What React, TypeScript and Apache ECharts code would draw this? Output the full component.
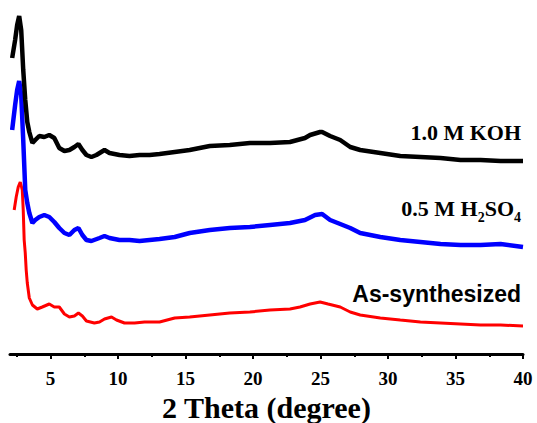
import React, { useEffect, useRef } from "react";
import * as echarts from "echarts";

// 2 Theta (degree) and intensity (a.u.)
const kohTheta = [2.16, 2.38, 2.53, 2.68, 2.83, 2.98, 3.13, 3.28, 3.43, 3.66, 3.87, 4.17, 4.54, 4.91, 5.28, 5.65, 6.03, 6.4, 6.77, 7.07, 7.36, 7.66, 8.03, 8.4, 9.0, 9.37, 10.11, 10.85, 11.6, 12.34, 13.08, 14.2, 15.31, 16.8, 18.28, 19.77, 21.26, 22.74, 23.85, 24.23, 24.97, 25.12, 25.71, 26.46, 27.2, 27.94, 29.43, 30.91, 32.4, 33.89, 35.37, 36.86, 38.34, 40];
const kohIntensity = [296, 314, 329, 338, 324, 284, 254, 232, 222, 211, 214, 218, 217, 219, 216, 206, 203, 204, 207, 210, 204, 199, 197, 199, 204, 201, 199, 198, 199, 199, 200, 202, 204, 208, 209, 211, 211, 212, 216, 219, 222, 222, 218, 214, 207, 204, 201, 198, 197, 196, 194, 194, 193, 193];

const h2so4Theta = [2.16, 2.38, 2.53, 2.68, 2.83, 2.98, 3.13, 3.28, 3.43, 3.66, 3.87, 4.17, 4.54, 4.91, 5.28, 5.65, 6.03, 6.4, 6.77, 7.07, 7.36, 7.66, 8.03, 8.63, 9.0, 9.37, 10.11, 10.85, 11.6, 12.34, 13.08, 14.2, 15.31, 16.8, 18.28, 19.77, 21.26, 22.74, 23.85, 24.6, 25.12, 25.71, 26.46, 27.2, 27.94, 29.43, 30.91, 32.4, 33.89, 35.37, 36.86, 38.34, 40];
const h2so4Intensity = [224, 249, 264, 273, 259, 214, 164, 151, 141, 131, 134, 137, 139, 137, 132, 126, 121, 119, 124, 126, 119, 114, 113, 116, 118, 116, 114, 114, 113, 114, 115, 117, 121, 124, 126, 127, 129, 131, 134, 139, 140, 134, 130, 126, 121, 117, 114, 112, 110, 109, 109, 110, 107];

const asTheta = [2.31, 2.46, 2.61, 2.76, 2.91, 2.98, 3.05, 3.13, 3.2, 3.28, 3.43, 3.66, 4.02, 4.39, 4.91, 5.28, 5.65, 6.03, 6.4, 6.77, 7.07, 7.36, 7.66, 8.25, 8.63, 9.0, 9.52, 9.89, 10.48, 11.23, 11.97, 13.08, 14.2, 15.31, 16.8, 18.28, 19.77, 21.26, 22.74, 23.48, 24.23, 24.97, 25.56, 26.46, 27.2, 27.94, 29.43, 30.91, 32.4, 33.89, 35.37, 36.86, 38.34, 40];
const asIntensity = [144, 157, 167, 172, 164, 144, 114, 101, 84, 71, 56, 49, 45, 47, 50, 47, 47, 40, 37, 38, 41, 38, 33, 31, 32, 35, 37, 34, 31, 31, 32, 32, 36, 37, 39, 41, 42, 44, 45, 47, 50, 52, 50, 47, 42, 39, 36, 34, 32, 31, 30, 29, 29, 28];

const majorTicks = [5, 10, 15, 20, 25, 30, 35, 40];
const minorTicks = [2.5, 7.5, 12.5, 17.5, 22.5, 27.5, 32.5, 37.5];

const pairs = (xs: number[], ys: number[]) => xs.map((x, i) => [x, ys[i]]);

const SERIF = "'Liberation Serif', 'Times New Roman', serif";
const SANS = "'Liberation Sans', Arial, sans-serif";

export default function App() {
  const ref = useRef<HTMLDivElement>(null);
  useEffect(() => {
    if (!ref.current) return;
    const chart = echarts.init(ref.current, undefined, { renderer: "svg" });
    chart.setOption({
      animation: false,
      backgroundColor: "#ffffff",
      grid: { left: 10, right: 14, top: 0, bottom: 69, outerBoundsMode: "none", containLabel: false },
      xAxis: [
        {
          type: "value",
          min: 2,
          max: 40,
          name: "2 Theta (degree)",
          nameLocation: "middle",
          nameGap: 35,
          nameTextStyle: { fontFamily: SERIF, fontWeight: "bold", fontSize: 30, color: "#000" },
          axisLine: { show: true, onZero: false, lineStyle: { color: "#000", width: 3 } },
          axisTick: { show: true, customValues: majorTicks, length: 5, lineStyle: { color: "#000", width: 2 } },
          axisLabel: { customValues: majorTicks, fontFamily: SERIF, fontWeight: "bold", fontSize: 19, color: "#000", margin: 15 },
          splitLine: { show: false },
        },
        {
          type: "value",
          min: 2,
          max: 40,
          position: "bottom",
          axisLine: { show: false, onZero: false },
          axisTick: { show: true, customValues: minorTicks, length: 3, lineStyle: { color: "#000", width: 2 } },
          axisLabel: { show: false },
          splitLine: { show: false },
        },
      ],
      yAxis: { type: "value", min: 0, max: 354, show: false },
      series: [
        { type: "line", data: pairs(kohTheta, kohIntensity), showSymbol: false, lineStyle: { color: "#000000", width: 4.5 }, z: 3 },
        { type: "line", data: pairs(h2so4Theta, h2so4Intensity), showSymbol: false, lineStyle: { color: "#0000ff", width: 4.5 }, z: 2 },
        { type: "line", data: pairs(asTheta, asIntensity), showSymbol: false, lineStyle: { color: "#ff0000", width: 3 }, z: 1 },
      ],
      graphic: [
        {
          type: "text",
          x: 521,
          y: 132,
          style: { text: "1.0 M KOH", fontFamily: SERIF, fontWeight: "bold", fontSize: 22, fill: "#000", align: "right", verticalAlign: "middle" },
        },
        {
          type: "text",
          x: 521,
          y: 197,
          style: {
            text: "{n|0.5 M H}{s|2}{n|SO}{s|4}",
            fontFamily: SERIF,
            fontWeight: "bold",
            fill: "#000",
            align: "right",
            verticalAlign: "top",
            rich: {
              n: { fontFamily: SERIF, fontWeight: "bold", fontSize: 22, lineHeight: 24, verticalAlign: "top", fill: "#000" },
              s: { fontFamily: SERIF, fontWeight: "bold", fontSize: 14, lineHeight: 14, padding: [13, 0, 0, 0], verticalAlign: "top", fill: "#000" },
            },
          },
        },
        {
          type: "text",
          x: 521,
          y: 294,
          style: { text: "As-synthesized", fontFamily: SANS, fontWeight: "bold", fontSize: 23, fill: "#000", align: "right", verticalAlign: "middle" },
        },
      ],
    });
    return () => chart.dispose();
  }, []);
  return <div ref={ref} style={{ position: "fixed", left: 0, top: 0, width: 537, height: 423 }} />;
}
